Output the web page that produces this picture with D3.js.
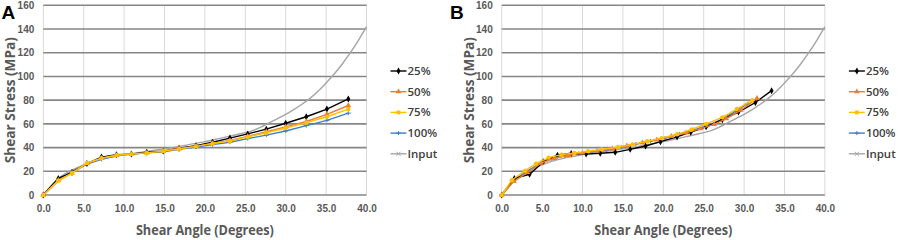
<!DOCTYPE html>
<html>
<head>
<meta charset="utf-8">
<script src="https://cdn.jsdelivr.net/npm/d3@7"></script>
<style>
  body { margin: 0; background: #fff; }
  svg { display: block; font-family: "Open Sans", sans-serif; }
  .tick text { fill: #595959; font-weight: 700; font-size: 10px; }
  .title { fill: #595959; font-weight: 700; font-size: 14px; }
  .legend text { fill: #404040; font-weight: 600; font-size: 11.5px; }
</style>
</head>
<body>
<svg width="899" height="240"></svg>
<script>
// series names + colours (Excel default palette)
const seriesNames = ['25%', '50%', '75%', '100%', 'Input'];
const seriesColors = ['#000000', '#ED7D31', '#FFC000', '#3F7FC9', '#A5A5A5'];
const seriesMarkers = ['diamond', 'triangle', 'circle', 'plus', 'cross'];

const xTicks = [0, 5, 10, 15, 20, 25, 30, 35, 40];
const yTicks = [0, 20, 40, 60, 80, 100, 120, 140, 160];

// input material curve (shared by both panels)
const inputAngle = [0, 1, 2, 3, 4, 6, 8, 10, 12, 14, 16, 18, 20, 22, 24, 26, 27, 28, 29, 30, 31, 32, 33, 34, 35, 36, 37, 38, 39, 40];
const inputStress = [0, 8, 14.5, 19, 22.5, 28, 31.5, 34, 36, 38, 40, 42.5, 45, 48, 51, 54.5, 57.5, 61, 64.5, 68, 72, 76.5, 81.5, 87.5, 94.5, 102, 110.5, 120, 130.5, 142];

// panel A : all series share the same angles
const aAngle = [0, 1.86, 3.55, 5.4, 7.2, 9.05, 10.9, 12.8, 14.85, 16.8, 18.9, 20.95, 23.1, 25.3, 27.6, 30.0, 32.55, 35.1, 37.75];
const a25 = [0, 14, 19, 26.5, 32, 34, 34.5, 36, 37, 39.5, 41.5, 44.5, 48, 51.5, 55.5, 60.5, 66, 72.5, 81];
const a50 = [0, 12.5, 18.5, 26.5, 31, 33.5, 34.5, 35.5, 37, 39, 41, 43.5, 46, 49.5, 53.5, 57.5, 62, 68, 75.5];
const a75 = [0, 12, 18.5, 27, 31, 33.5, 34.5, 35.5, 37, 39, 41, 43.5, 45.5, 49, 52.5, 56.5, 61, 66, 72.5];
const a100 = [0, 12, 20, 26, 30, 33, 34.5, 35.5, 36.5, 38.5, 40.5, 42.5, 44.5, 47.5, 50.5, 54, 58.5, 63, 69];

// panel B : each series has its own angles
const b25Angle = [0, 1.57, 3.45, 5.15, 6.9, 8.6, 10.45, 12.2, 14.05, 15.9, 17.8, 19.65, 21.7, 23.4, 25.3, 27.3, 29.3, 31.4, 33.4];
const b25 = [0, 14, 17.5, 28, 33.5, 35, 34.5, 35.2, 36, 38.5, 41.3, 45, 49, 53, 57.5, 63.5, 70, 78, 88];
const b50Angle = [0, 1.5, 3.2, 4.9, 6.5, 8.3, 10.0, 11.8, 13.7, 15.5, 17.4, 19.2, 21.0, 22.8, 24.6, 26.3, 27.8, 29.6, 31.6];
const b50 = [0, 11.5, 19, 27, 31, 33.5, 35.5, 37, 39, 41.5, 44, 46.5, 49.5, 52.5, 56, 59.5, 64.5, 71.5, 81.5];
const b75Angle = [0, 1.25, 2.9, 4.25, 5.8, 7.4, 9.0, 10.7, 12.4, 14.4, 16.2, 18.0, 19.8, 21.7, 23.5, 25.3, 27.3, 29.1, 31.0];
const b75 = [0, 12.5, 20.5, 26.5, 31.5, 34, 35.5, 37, 38.5, 40.5, 42.7, 45.3, 48, 51.2, 55.3, 60, 65.5, 72.5, 80];
const b100Angle = [0, 1.5, 3.0, 4.6, 6.2, 7.8, 9.5, 11.2, 13.0, 14.8, 16.6, 18.4, 20.2, 22.0, 23.8, 25.6, 27.4, 29.0, 30.4];
const b100 = [0, 12, 19.5, 26, 30.5, 33, 35, 36.5, 38, 40.5, 43, 45.5, 48, 51.5, 55, 59, 64.5, 71, 77];

const toPts = (xs, ys) => xs.map((x, i) => ({x: x, y: ys[i]}));

const panels = [
  {label: 'A', left: 43.3, letterX: 1.5, series: [toPts(aAngle, a25), toPts(aAngle, a50), toPts(aAngle, a75), toPts(aAngle, a100), toPts(inputAngle, inputStress)]},
  {label: 'B', left: 501.7, letterX: 450, series: [toPts(b25Angle, b25), toPts(b50Angle, b50), toPts(b75Angle, b75), toPts(b100Angle, b100), toPts(inputAngle, inputStress)]}
];

const svg = d3.select('svg');
const plotW = 323.2, plotTop = 5.3, plotBottom = 195;

// little marker shapes
function drawMarker(g, type, color, cx, cy) {
  if (type === 'diamond') {
    g.append('path').attr('d', d3.symbol(d3.symbolDiamond, 14)()).attr('transform', `translate(${cx},${cy})`).attr('fill', color);
  } else if (type === 'triangle') {
    g.append('path').attr('d', d3.symbol(d3.symbolTriangle, 14)()).attr('transform', `translate(${cx},${cy})`).attr('fill', color);
  } else if (type === 'circle') {
    g.append('circle').attr('cx', cx).attr('cy', cy).attr('r', 2.2).attr('fill', color);
  } else if (type === 'plus') {
    g.append('path').attr('d', `M${cx-2.5},${cy}H${cx+2.5}M${cx},${cy-2}V${cy+2}`).attr('stroke', color).attr('stroke-width', 1);
  } else {
    g.append('path').attr('d', `M${cx-2},${cy-2}L${cx+2},${cy+2}M${cx-2},${cy+2}L${cx+2},${cy-2}`).attr('stroke', color).attr('stroke-width', 1);
  }
}

panels.forEach(p => {
  const x = d3.scaleLinear().domain([0, 40]).range([p.left, p.left + plotW]);
  const y = d3.scaleLinear().domain([0, 160]).range([plotBottom, plotTop]);
  const g = svg.append('g');

  // vertical grid
  g.append('g')
    .selectAll('line').data(xTicks).enter().append('line')
    .attr('x1', d => x(d)).attr('x2', d => x(d))
    .attr('y1', plotTop).attr('y2', plotBottom)
    .attr('stroke', '#d9d9d9').attr('stroke-width', 1);

  // horizontal grid
  g.append('g')
    .selectAll('line').data(yTicks).enter().append('line')
    .attr('x1', x(0)).attr('x2', x(40))
    .attr('y1', d => y(d)).attr('y2', d => y(d))
    .attr('stroke', '#868686').attr('stroke-width', 1.6);

  // axes (labels only)
  const xAxis = g.append('g').attr('transform', `translate(0,${plotBottom + 4})`)
    .call(d3.axisBottom(x).tickValues(xTicks).tickFormat(d3.format('.1f')).tickSize(0).tickPadding(6));
  xAxis.select('.domain').remove();

  const yAxis = g.append('g').attr('transform', `translate(${p.left - 9},0)`)
    .call(d3.axisLeft(y).tickValues(yTicks).tickSize(0).tickPadding(0));
  yAxis.select('.domain').remove();

  // lines
  const line = d3.line().x(d => x(d.x)).y(d => y(d.y));
  const order = [4, 3, 0, 1, 2];
  order.forEach(i => {
    g.append('path').datum(p.series[i])
      .attr('d', line.curve(i === 4 ? d3.curveMonotoneX : d3.curveLinear))
      .attr('fill', 'none').attr('stroke', seriesColors[i]).attr('stroke-width', 1.4);
    if (i !== 4) {
      const mg = g.append('g');
      p.series[i].forEach(d => drawMarker(mg, seriesMarkers[i], seriesColors[i], x(d.x), y(d.y)));
    }
  });

  // titles (squeezed to the narrow width of the original font)
  g.append('text').attr('class', 'title')
    .attr('transform', `translate(${p.left - 28},${(plotTop + plotBottom) / 2}) rotate(-90)`)
    .attr('text-anchor', 'middle')
    .attr('textLength', 126).attr('lengthAdjust', 'spacingAndGlyphs')
    .text('Shear Stress (MPa)');
  g.append('text').attr('class', 'title')
    .attr('x', p.left + plotW / 2).attr('y', 235)
    .attr('text-anchor', 'middle')
    .attr('textLength', 138).attr('lengthAdjust', 'spacingAndGlyphs')
    .text('Shear Angle (Degrees)');

  // panel letter
  g.append('text').attr('x', p.letterX).attr('y', 18.5)
    .attr('font-family', 'Liberation Sans, Arial, sans-serif').attr('font-weight', 700).attr('font-size', 19)
    .attr('fill', '#000').text(p.label);

  // legend
  const lg = g.append('g').attr('class', 'legend');
  const lx = p.left + plotW + 24;
  seriesNames.forEach((name, i) => {
    const ly = 71 + i * 20.7;
    lg.append('line').attr('x1', lx).attr('x2', lx + 16).attr('y1', ly).attr('y2', ly)
      .attr('stroke', seriesColors[i]).attr('stroke-width', 1.4);
    drawMarker(lg, seriesMarkers[i], seriesColors[i], lx + 8, ly);
    lg.append('text').attr('x', lx + 17).attr('y', ly + 4).text(name);
  });
});
</script>
</body>
</html>
